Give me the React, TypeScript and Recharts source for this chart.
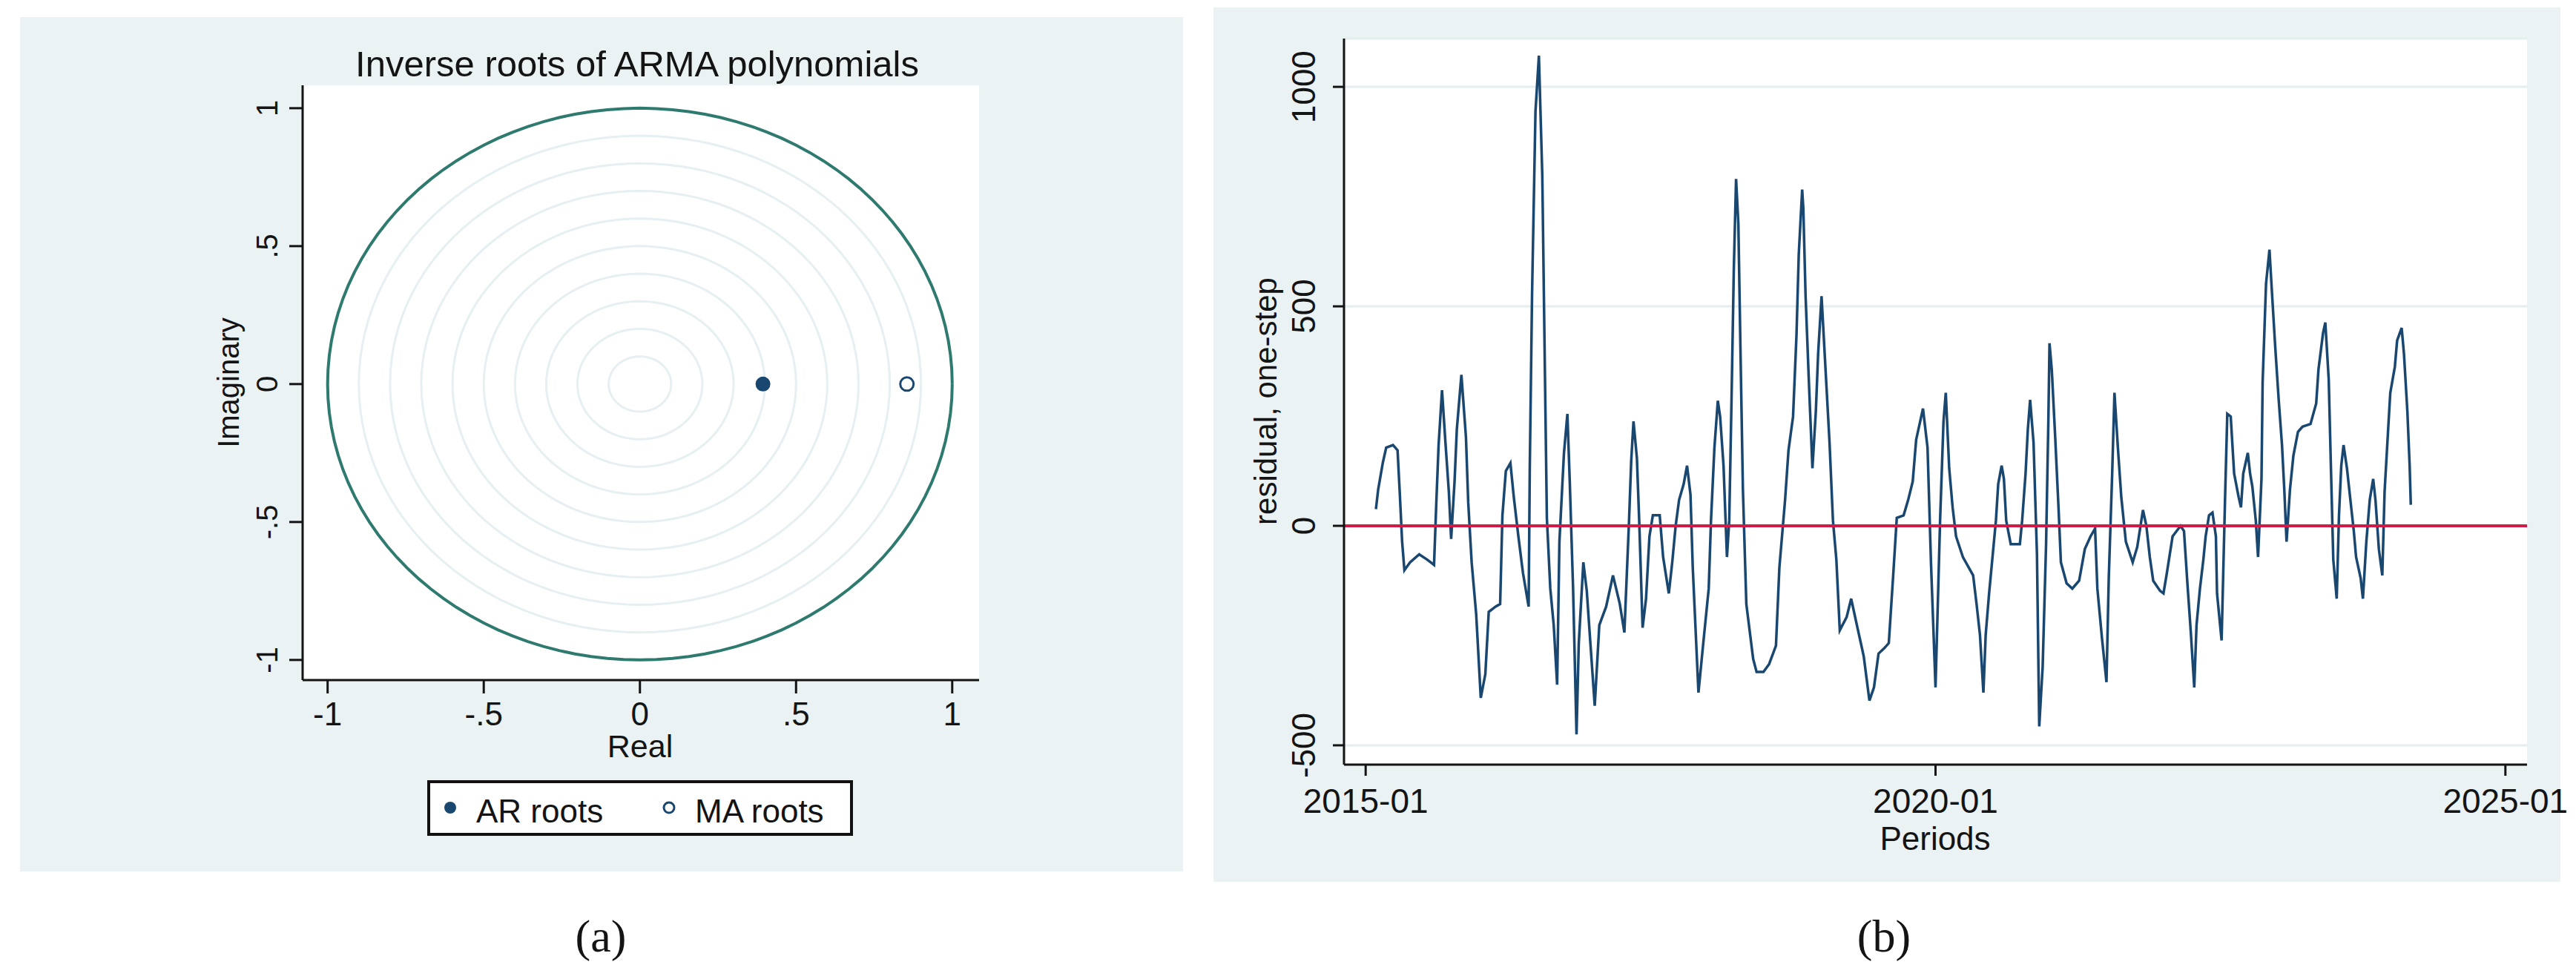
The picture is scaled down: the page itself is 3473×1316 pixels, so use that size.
import {
  ComposedChart,
  LineChart,
  Line,
  Scatter,
  XAxis,
  YAxis,
  CartesianGrid,
  ReferenceLine,
} from 'recharts'

const FONT = '"Liberation Sans", Arial, sans-serif'
const SERIF = '"Liberation Serif", "Times New Roman", serif'
const INK = '#141414'
const NAVY = '#1a476f'
const PANEL_BG = '#eaf2f3'
const RING_GREY = '#e6eff1'
const CIRCLE_GREEN = '#2f7a6e'
const ZERO_RED = '#d11a45'

// (a) inverse roots of the ARMA polynomials
const AR_REAL = [0.394]
const AR_IMAG = [0]
const MA_REAL = [0.855]
const MA_IMAG = [0]
const GRID_RADII = [0.1, 0.2, 0.3, 0.4, 0.5, 0.6, 0.7, 0.8, 0.9]
const UNIT_RADIUS = 1
const ROOT_TICKS = [-1, -0.5, 0, 0.5, 1]

// (b) one-step residuals, period as decimal year
const PERIODS = [
  2015.09, 2015.11, 2015.15, 2015.18, 2015.24, 2015.28, 2015.3, 2015.32, 2015.34, 2015.39,
  2015.47, 2015.54, 2015.6, 2015.62, 2015.64, 2015.67, 2015.7, 2015.73, 2015.75, 2015.78,
  2015.8, 2015.84, 2015.88, 2015.9, 2015.93, 2015.97, 2016.01, 2016.05, 2016.08, 2016.14,
  2016.18, 2016.2, 2016.23, 2016.27, 2016.3, 2016.34, 2016.38, 2016.43, 2016.44, 2016.46,
  2016.49, 2016.52, 2016.55, 2016.57, 2016.59, 2016.62, 2016.65, 2016.68, 2016.7, 2016.74,
  2016.77, 2016.79, 2016.82, 2016.85, 2016.87, 2016.91, 2016.94, 2016.97, 2017.01, 2017.05,
  2017.11, 2017.17, 2017.23, 2017.27, 2017.31, 2017.33, 2017.35, 2017.38, 2017.4, 2017.43,
  2017.46, 2017.49, 2017.52, 2017.58, 2017.61, 2017.66, 2017.69, 2017.72, 2017.75, 2017.79,
  2017.82, 2017.85, 2017.87, 2017.92, 2017.96, 2018.01, 2018.03, 2018.06, 2018.09, 2018.11,
  2018.14, 2018.17, 2018.19, 2018.21, 2018.23, 2018.25, 2018.27, 2018.29, 2018.31, 2018.34,
  2018.4, 2018.43, 2018.49, 2018.54, 2018.6, 2018.63, 2018.68, 2018.71, 2018.75, 2018.78,
  2018.8, 2018.83, 2018.84, 2018.86, 2018.89, 2018.92, 2018.95, 2018.97, 2019.0, 2019.03,
  2019.07, 2019.1, 2019.13, 2019.16, 2019.22, 2019.26, 2019.31, 2019.37, 2019.42, 2019.46,
  2019.5, 2019.55, 2019.59, 2019.63, 2019.66, 2019.72, 2019.76, 2019.8, 2019.83, 2019.89,
  2019.93, 2019.96, 2020.0, 2020.04, 2020.07, 2020.09, 2020.12, 2020.15, 2020.18, 2020.24,
  2020.33, 2020.36, 2020.39, 2020.42, 2020.44, 2020.47, 2020.5, 2020.53, 2020.55, 2020.58,
  2020.6, 2020.62, 2020.66, 2020.74, 2020.76, 2020.79, 2020.81, 2020.83, 2020.86, 2020.89,
  2020.91, 2020.94, 2020.97, 2020.99, 2021.0, 2021.02, 2021.05, 2021.08, 2021.1, 2021.15,
  2021.2, 2021.26, 2021.31, 2021.36, 2021.4, 2021.42, 2021.46, 2021.5, 2021.52, 2021.55,
  2021.57, 2021.6, 2021.63, 2021.67, 2021.73, 2021.77, 2021.82, 2021.85, 2021.88, 2021.91,
  2021.97, 2022.0, 2022.03, 2022.08, 2022.15, 2022.18, 2022.21, 2022.24, 2022.27, 2022.29,
  2022.32, 2022.35, 2022.37, 2022.4, 2022.43, 2022.46, 2022.47, 2022.51, 2022.54, 2022.56,
  2022.59, 2022.62, 2022.66, 2022.68, 2022.7, 2022.74, 2022.76, 2022.78, 2022.81, 2022.83,
  2022.86, 2022.87, 2022.9, 2022.93, 2022.95, 2022.98, 2023.01, 2023.04, 2023.06, 2023.08,
  2023.11, 2023.14, 2023.18, 2023.22, 2023.29, 2023.34, 2023.36, 2023.4, 2023.42, 2023.45,
  2023.47, 2023.49, 2023.52, 2023.54, 2023.56, 2023.58, 2023.61, 2023.64, 2023.67, 2023.69,
  2023.73, 2023.75, 2023.78, 2023.81, 2023.84, 2023.86, 2023.89, 2023.92, 2023.94, 2023.97,
  2023.99, 2024.03, 2024.05, 2024.09, 2024.11, 2024.14, 2024.16, 2024.17,
]

const RESIDUALS = [
  38, 83, 143, 178, 184, 172, 71, -36, -101, -83,
  -65, -77, -89, 53, 184, 309, 190, 77, -30, 101,
  220, 344, 202, 53, -83, -202, -392, -338, -196, -184,
  -178, 24, 125, 143, 65, -24, -107, -184, 131, 528,
  944, 1071, 796, 404, 18, -143, -226, -362, -36, 166,
  255, 107, -143, -475, -267, -83, -148, -261, -410, -226,
  -184, -113, -178, -243, 6, 148, 238, 154, 12, -232,
  -166, -24, 24, 24, -71, -154, -83, 0, 59, 95,
  137, 71, -95, -380, -273, -143, 12, 178, 285, 249,
  137, -71, 12, 285, 582, 790, 689, 380, 83, -178,
  -303, -333, -333, -315, -273, -95, 59, 172, 249, 434,
  618, 766, 724, 523, 321, 131, 261, 392, 523, 380,
  190, 12, -77, -238, -208, -166, -226, -297, -398, -368,
  -291, -279, -267, -107, 18, 24, 59, 101, 196, 267,
  178, -83, -368, 12, 238, 303, 131, 42, -24, -71,
  -113, -178, -249, -380, -249, -154, -71, 12, 95, 137,
  107, 12, -42, -42, 12, 119, 220, 287, 190, -65,
  -457, -321, -42, 238, 416, 356, 202, 36, -83, -131,
  -143, -125, -53, -24, -6, -143, -255, -356, -119, 119,
  303, 178, 65, -36, -83, -48, 36, 0, -71, -125,
  -148, -154, -107, -24, 0, -12, -131, -243, -368, -226,
  -143, -77, -24, 24, 30, -24, -154, -261, 59, 255,
  249, 119, 65, 42, 119, 166, 119, 89, 12, -71,
  107, 327, 552, 629, 540, 410, 291, 184, 83, -36,
  83, 160, 214, 226, 232, 279, 356, 439, 463, 333,
  125, -77, -166, 24, 137, 184, 131, 59, -12, -71,
  -119, -166, -36, 59, 107, 59, -53, -113, 77, 214,
  303, 362, 422, 451, 392, 261, 137, 48,
]

const PERIOD_TICKS = [2015, 2020, 2025]
const RESIDUAL_TICKS = [-500, 0, 500, 1000]

const residualData = PERIODS.map((t, i) => ({ t, r: RESIDUALS[i] }))
const arData = AR_REAL.map((x, i) => ({ x, y: AR_IMAG[i] }))
const maData = MA_REAL.map((x, i) => ({ x, y: MA_IMAG[i] }))

// sample a circle of radius r around the origin, closed
function ringPoints(r: number) {
  const pts: { x: number; y: number }[] = []
  for (let deg = 0; deg <= 360; deg += 3) {
    const a = (deg * Math.PI) / 180
    pts.push({ x: r * Math.cos(a), y: r * Math.sin(a) })
  }
  return pts
}

const fmtRoot = (v: number) => (v === 0 ? '0' : String(v).replace('0.', '.'))
const fmtPeriod = (v: number) => `${Math.round(v)}-01`

function BottomTick(props: any) {
  const { x, y, payload, fmt, size, dy } = props
  return (
    <text x={x} y={y + dy} textAnchor="middle" fontFamily={FONT} fontSize={size} fill={INK}>
      {fmt(payload.value)}
    </text>
  )
}

// Stata style: y labels turned to read bottom-to-top
function LeftTick(props: any) {
  const { x, y, payload, fmt, size, dx } = props
  const px = x + dx
  return (
    <text
      x={px}
      y={y}
      transform={`rotate(-90 ${px} ${y})`}
      textAnchor="middle"
      fontFamily={FONT}
      fontSize={size}
      fill={INK}
    >
      {fmt(payload.value)}
    </text>
  )
}

// tight line box so axis titles can sit right under the tick labels
function Label({ x, y, size, rotate, font, lh = 1, children }: any) {
  return (
    <div
      style={{
        position: 'absolute',
        left: x,
        top: y,
        transform: `translate(-50%, -50%)${rotate ? ' rotate(-90deg)' : ''}`,
        fontFamily: font ?? FONT,
        fontSize: size,
        lineHeight: lh,
        color: INK,
        whiteSpace: 'nowrap',
      }}
    >
      {children}
    </div>
  )
}

const axisStroke = { stroke: INK, strokeWidth: 3 }

export default function App() {
  return (
    <div
      style={{
        position: 'absolute',
        left: 0,
        top: 0,
        width: 3473,
        height: 1316,
        background: '#fff',
        overflow: 'hidden',
      }}
    >
      {/* panel (a) */}
      <div style={{ position: 'absolute', left: 27, top: 23, width: 1568, height: 1152, background: PANEL_BG }}>
        <ComposedChart width={1568} height={1152} margin={{ top: 92, right: 275, bottom: 198, left: 301 }}>
          <CartesianGrid fill="#fff" stroke="none" horizontal={false} vertical={false} />
          <XAxis
            type="number"
            dataKey="x"
            domain={[-1.08, 1.086]}
            ticks={ROOT_TICKS}
            interval={0}
            allowDataOverflow
            height={60}
            tickSize={18}
            tickMargin={0}
            axisLine={axisStroke}
            tickLine={axisStroke}
            tick={(p: any) => <BottomTick {...p} fmt={fmtRoot} size={44} dy={43} />}
          />
          <YAxis
            type="number"
            dataKey="y"
            domain={[-1.073, 1.083]}
            ticks={ROOT_TICKS}
            interval={0}
            allowDataOverflow
            width={80}
            tickSize={18}
            tickMargin={0}
            axisLine={axisStroke}
            tickLine={axisStroke}
            tick={(p: any) => <LeftTick {...p} fmt={fmtRoot} size={40} dx={-16} />}
          />
          {GRID_RADII.map((r) => (
            <Line
              key={r}
              data={ringPoints(r)}
              dataKey="y"
              type="linear"
              stroke={RING_GREY}
              strokeWidth={3}
              dot={false}
              activeDot={false}
              isAnimationActive={false}
            />
          ))}
          <Line
            data={ringPoints(UNIT_RADIUS)}
            dataKey="y"
            type="linear"
            stroke={CIRCLE_GREEN}
            strokeWidth={4}
            dot={false}
            activeDot={false}
            isAnimationActive={false}
          />
          <Scatter
            data={arData}
            isAnimationActive={false}
            shape={(p: any) => <circle cx={p.cx} cy={p.cy} r={10} fill={NAVY} />}
          />
          <Scatter
            data={maData}
            isAnimationActive={false}
            shape={(p: any) => <circle cx={p.cx} cy={p.cy} r={9} fill="#fff" stroke={NAVY} strokeWidth={3} />}
          />
        </ComposedChart>
      </div>
      <Label x={859} y={86} size={49}>Inverse roots of ARMA polynomials</Label>
      <Label x={308} y={516} size={40} rotate>Imaginary</Label>
      <Label x={863} y={1006} size={43} lh={0.7}>Real</Label>

      {/* legend box */}
      <div
        style={{
          position: 'absolute',
          left: 576,
          top: 1052,
          width: 574,
          height: 75,
          boxSizing: 'border-box',
          border: '4px solid #111',
          background: '#fff',
        }}
      >
        <svg width={566} height={67} style={{ position: 'absolute', left: 0, top: 0 }}>
          <circle cx={27} cy={33} r={8} fill={NAVY} />
          <circle cx={322} cy={33} r={7} fill="#fff" stroke={NAVY} strokeWidth={3} />
        </svg>
        <div style={{ position: 'absolute', left: 62, top: 16, fontFamily: FONT, fontSize: 44, lineHeight: 1, color: INK }}>
          AR roots
        </div>
        <div style={{ position: 'absolute', left: 357, top: 16, fontFamily: FONT, fontSize: 44, lineHeight: 1, color: INK }}>
          MA roots
        </div>
      </div>
      <Label x={810} y={1262} size={62} font={SERIF}>(a)</Label>

      {/* panel (b) */}
      <div style={{ position: 'absolute', left: 1636, top: 10, width: 1816, height: 1179, background: PANEL_BG }} />
      <div style={{ position: 'absolute', left: 1636, top: 10 }}>
        <LineChart width={1840} height={1179} data={residualData} margin={{ top: 42, right: 69, bottom: 98, left: 116 }}>
          <CartesianGrid fill="#fff" stroke="#e4edf0" strokeWidth={3} vertical={false} />
          <XAxis
            type="number"
            dataKey="t"
            domain={[2014.81, 2025.19]}
            ticks={PERIOD_TICKS}
            interval={0}
            allowDataOverflow
            height={60}
            tickSize={15}
            tickMargin={0}
            axisLine={axisStroke}
            tickLine={axisStroke}
            tick={(p: any) => <BottomTick {...p} fmt={fmtPeriod} size={46} dy={50} />}
          />
          <YAxis
            type="number"
            domain={[-544, 1110]}
            ticks={RESIDUAL_TICKS}
            interval={0}
            allowDataOverflow
            width={60}
            tickSize={15}
            tickMargin={0}
            axisLine={axisStroke}
            tickLine={axisStroke}
            tick={(p: any) => <LeftTick {...p} fmt={(v: number) => String(v)} size={44} dx={-24} />}
          />
          <Line
            dataKey="r"
            type="linear"
            stroke={NAVY}
            strokeWidth={3.5}
            dot={false}
            activeDot={false}
            isAnimationActive={false}
          />
          <ReferenceLine y={0} stroke={ZERO_RED} strokeWidth={4} />
        </LineChart>
      </div>
      <Label x={1707} y={541} size={42} rotate>residual, one-step</Label>
      <Label x={2609} y={1131} size={44} lh={0.7}>Periods</Label>
      <Label x={2540} y={1262} size={62} font={SERIF}>(b)</Label>
    </div>
  )
}
